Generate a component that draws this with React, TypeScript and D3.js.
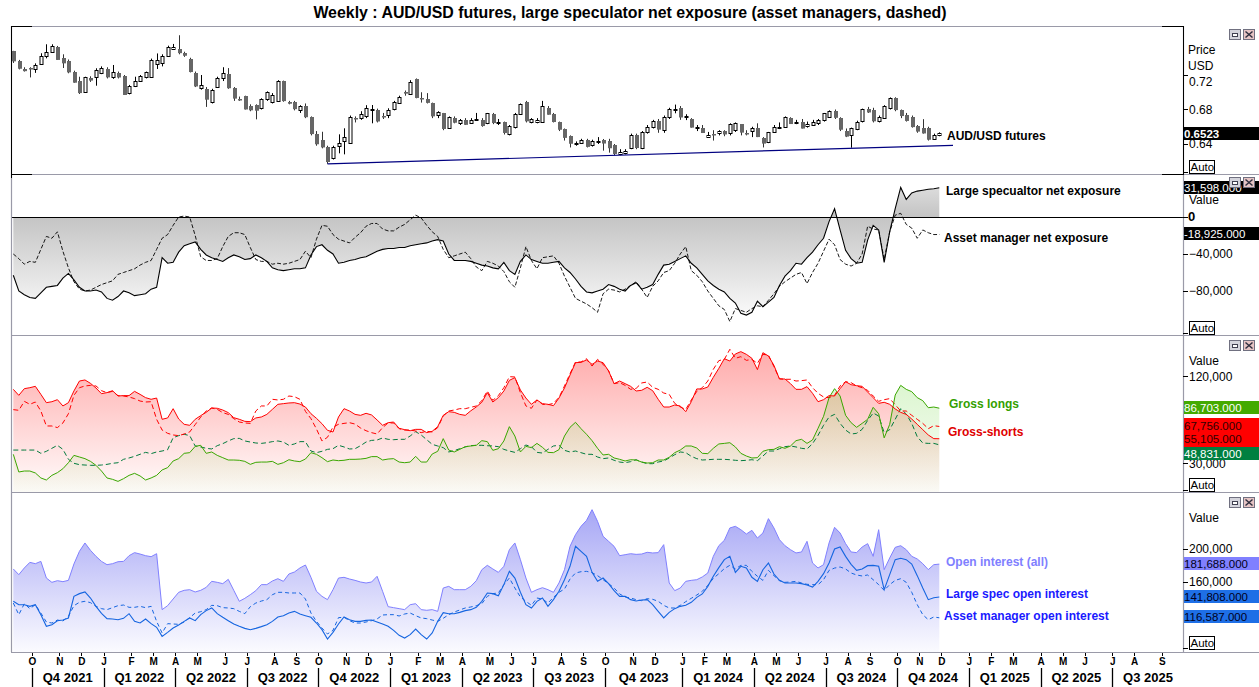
import React, { useEffect, useRef } from 'react';
import * as d3 from 'd3';

// weekly bars (week starting Sunday), Sep 2021 .. Nov 2024
const firstWeek = new Date(2021, 8, 5);
const lastWeek = new Date(2024, 10, 24);

// AUD/USD futures weekly candles
const priceOpen = [
  0.7475, 0.7365, 0.7275, 0.728, 0.7272, 0.733, 0.742, 0.747, 0.753, 0.7397,
  0.736, 0.7239, 0.713, 0.7, 0.716, 0.718, 0.7227, 0.727, 0.718, 0.722,
  0.7188, 0.6988, 0.7072, 0.7135, 0.7173, 0.718, 0.733, 0.734, 0.742, 0.7505,
  0.75, 0.7452, 0.739, 0.722, 0.7055, 0.7034, 0.6885, 0.7064, 0.7165, 0.721,
  0.7045, 0.6922, 0.6956, 0.684, 0.6852, 0.681, 0.6915, 0.6886, 0.69, 0.713,
  0.689, 0.6883, 0.6794, 0.684, 0.671, 0.6515, 0.6446, 0.6368, 0.6233, 0.6376,
  0.6433, 0.6408, 0.6704, 0.67, 0.6716, 0.679, 0.6797, 0.672, 0.6736, 0.6805,
  0.688, 0.7007, 0.698, 0.715, 0.693, 0.692, 0.6872, 0.674, 0.6755, 0.6593,
  0.6705, 0.665, 0.6683, 0.665, 0.669, 0.668, 0.664, 0.6745, 0.665, 0.665,
  0.6523, 0.6593, 0.6748, 0.689, 0.666, 0.666, 0.6658, 0.6823, 0.6748, 0.665,
  0.657, 0.649, 0.64, 0.6415, 0.645, 0.638, 0.643, 0.6446, 0.6434, 0.6388,
  0.6292, 0.63, 0.6353, 0.6504, 0.636, 0.6542, 0.66, 0.667, 0.657, 0.6717,
  0.68, 0.682, 0.6715, 0.669, 0.659, 0.659, 0.648, 0.652, 0.6519, 0.655,
  0.6523, 0.656, 0.6628, 0.653, 0.655, 0.659, 0.6473, 0.6423, 0.654, 0.66,
  0.66, 0.6705, 0.665, 0.6658, 0.66, 0.662, 0.664, 0.667, 0.6714, 0.6777,
  0.6698, 0.655, 0.6504, 0.657, 0.6666, 0.681, 0.6797, 0.667, 0.6698, 0.6814,
  0.693, 0.679, 0.6735, 0.6717, 0.6605, 0.659, 0.659, 0.646, 0.6505,
];
const priceHigh = [
  0.748, 0.7375, 0.729, 0.729, 0.7335, 0.7452, 0.7556, 0.7556, 0.7537, 0.744,
  0.738, 0.725, 0.718, 0.718, 0.7185, 0.7278, 0.73, 0.729, 0.7316, 0.724,
  0.72, 0.7085, 0.718, 0.72, 0.724, 0.739, 0.745, 0.744, 0.754, 0.756,
  0.7661, 0.747, 0.74, 0.724, 0.72, 0.706, 0.704, 0.718, 0.729, 0.728,
  0.706, 0.695, 0.696, 0.686, 0.686, 0.693, 0.701, 0.699, 0.714, 0.7135,
  0.69, 0.69, 0.685, 0.687, 0.672, 0.655, 0.6542, 0.638, 0.638, 0.6512,
  0.6582, 0.673, 0.672, 0.678, 0.685, 0.6852, 0.681, 0.676, 0.6814, 0.69,
  0.696, 0.702, 0.714, 0.716, 0.7, 0.699, 0.688, 0.678, 0.676, 0.672,
  0.672, 0.669, 0.67, 0.67, 0.676, 0.67, 0.676, 0.676, 0.669, 0.666,
  0.662, 0.676, 0.687, 0.69, 0.67, 0.67, 0.69, 0.684, 0.676, 0.666,
  0.658, 0.65, 0.643, 0.646, 0.646, 0.645, 0.648, 0.6458, 0.646, 0.64,
  0.634, 0.634, 0.652, 0.652, 0.655, 0.662, 0.668, 0.669, 0.673, 0.682,
  0.6857, 0.684, 0.6745, 0.67, 0.662, 0.662, 0.654, 0.656, 0.656, 0.656,
  0.664, 0.665, 0.663, 0.656, 0.66, 0.664, 0.648, 0.654, 0.662, 0.665,
  0.672, 0.671, 0.668, 0.669, 0.666, 0.668, 0.669, 0.676, 0.679, 0.68,
  0.671, 0.658, 0.659, 0.667, 0.681, 0.683, 0.682, 0.673, 0.685, 0.694,
  0.6942, 0.68, 0.676, 0.673, 0.662, 0.6688, 0.66, 0.652, 0.6535,
];
const priceLow = [
  0.734, 0.7265, 0.724, 0.7172, 0.7225, 0.7316, 0.7393, 0.7464, 0.7374, 0.7281,
  0.722, 0.711, 0.698, 0.6995, 0.712, 0.7076, 0.721, 0.716, 0.7155, 0.716,
  0.6968, 0.6975, 0.706, 0.712, 0.716, 0.717, 0.727, 0.73, 0.741, 0.749,
  0.744, 0.741, 0.723, 0.706, 0.703, 0.683, 0.687, 0.705, 0.713, 0.704,
  0.69, 0.69, 0.68, 0.678, 0.6686, 0.68, 0.69, 0.687, 0.689, 0.689,
  0.686, 0.679, 0.676, 0.67, 0.65, 0.638, 0.635, 0.617, 0.622, 0.6292,
  0.628, 0.64, 0.665, 0.668, 0.67, 0.664, 0.665, 0.669, 0.67, 0.679,
  0.687, 0.696, 0.697, 0.693, 0.688, 0.687, 0.67, 0.67, 0.656, 0.659,
  0.664, 0.662, 0.662, 0.664, 0.668, 0.66, 0.663, 0.663, 0.662, 0.651,
  0.65, 0.658, 0.674, 0.665, 0.664, 0.664, 0.665, 0.674, 0.665, 0.655,
  0.644, 0.636, 0.638, 0.64, 0.636, 0.637, 0.64, 0.6323, 0.63, 0.627,
  0.627, 0.628, 0.634, 0.634, 0.634, 0.652, 0.658, 0.653, 0.653, 0.669,
  0.6756, 0.668, 0.6677, 0.659, 0.655, 0.653, 0.647, 0.644, 0.65, 0.649,
  0.65, 0.654, 0.65, 0.65, 0.648, 0.648, 0.636, 0.641, 0.653, 0.6573,
  0.659, 0.664, 0.663, 0.658, 0.659, 0.661, 0.662, 0.666, 0.671, 0.669,
  0.655, 0.648, 0.6357, 0.656, 0.665, 0.676, 0.665, 0.665, 0.669, 0.68,
  0.678, 0.67, 0.666, 0.659, 0.653, 0.652, 0.644, 0.645, 0.649,
];
const priceClose = [
  0.7355, 0.7275, 0.725, 0.7268, 0.7316, 0.742, 0.7462, 0.7536, 0.738, 0.7335,
  0.7228, 0.7115, 0.699, 0.7173, 0.713, 0.7258, 0.7285, 0.7173, 0.7239, 0.7168,
  0.6968, 0.7072, 0.713, 0.7188, 0.723, 0.7374, 0.7374, 0.742, 0.753, 0.753,
  0.7452, 0.742, 0.7239, 0.7064, 0.7084, 0.691, 0.7026, 0.717, 0.722, 0.7045,
  0.6922, 0.692, 0.68, 0.679, 0.6786, 0.692, 0.7, 0.697, 0.713, 0.6897,
  0.687, 0.68, 0.684, 0.671, 0.6512, 0.6396, 0.636, 0.6194, 0.636, 0.641,
  0.6477, 0.671, 0.6689, 0.6745, 0.6814, 0.68, 0.6664, 0.671, 0.679, 0.6887,
  0.6948, 0.6988, 0.7115, 0.693, 0.6915, 0.6875, 0.6717, 0.677, 0.657, 0.6717,
  0.665, 0.668, 0.6627, 0.668, 0.6692, 0.661, 0.6755, 0.664, 0.6658, 0.6523,
  0.6612, 0.6748, 0.686, 0.6666, 0.669, 0.668, 0.684, 0.6745, 0.6655, 0.656,
  0.6467, 0.64, 0.6415, 0.6448, 0.637, 0.643, 0.6438, 0.6405, 0.635, 0.6284,
  0.6312, 0.632, 0.6504, 0.6353, 0.6542, 0.66, 0.667, 0.657, 0.6717, 0.6805,
  0.681, 0.671, 0.6728, 0.659, 0.6593, 0.6532, 0.6504, 0.651, 0.6547, 0.651,
  0.6628, 0.664, 0.6528, 0.6525, 0.659, 0.6485, 0.6408, 0.6534, 0.66, 0.66,
  0.6717, 0.6635, 0.666, 0.6582, 0.6628, 0.666, 0.6675, 0.6756, 0.6783, 0.6698,
  0.6562, 0.6485, 0.6582, 0.6655, 0.68, 0.677, 0.6666, 0.6717, 0.684, 0.693,
  0.679, 0.672, 0.6666, 0.66, 0.654, 0.6527, 0.6454, 0.6504, 0.6523,
];
const lastPrice = 0.6523;
const trendWeeks = [57, 152];
const trendPrices = [0.617, 0.635];

// net positions, thousands of contracts
const largeSpecNet = [
  -63, -80, -84, -87, -88, -82, -76, -75, -74, -66,
  -61, -68, -76, -80, -80, -79, -81, -88, -90, -86,
  -80, -82, -85, -84, -83, -78, -76, -44, -50, -49,
  -38, -31, -29, -27, -35, -41, -44, -46, -48, -44,
  -41, -43, -46, -45, -41, -44, -48, -55, -57, -58,
  -57, -56, -56, -55, -41, -32, -30, -36, -40, -50,
  -49, -47, -46, -44, -43, -40, -37, -35, -34, -34,
  -33, -33, -31, -30, -29, -28, -26, -24.5, -26, -40,
  -47, -47, -47, -48, -50, -52, -53, -55, -56, -49,
  -58, -62, -48, -41, -46, -48, -50, -50, -49, -48,
  -55, -60, -67, -75, -81, -82, -80, -78, -73, -75,
  -78, -80, -74, -71, -78, -76, -73, -62, -52, -51,
  -48, -45, -42, -50, -55, -62, -69, -74, -78, -81,
  -88, -93, -104, -106, -103, -91, -97, -92, -87, -74,
  -64, -58, -50, -51, -44, -38, -30, -23, -5, 9,
  -14, -36, -45, -50, -49, -25, -9, -14, -49, -16,
  9, 32, 19, 26, 28, 29, 30, 30.6, 31.6,
];
const assetMgrNet = [
  -40, -45, -51, -48, -49, -35, -21, -23, -16, -37,
  -55, -70, -78, -80, -79, -76, -73, -71, -69, -62,
  -60, -58, -56, -52, -49, -47, -35, -23, -19, -9,
  0, 1, 0, -20, -43, -47, -47, -45, -32, -21,
  -17, -17, -19, -33, -46, -48, -48, -51, -50, -51,
  -50, -48, -46, -37, -44, -24, -9, -10, -19, -24,
  -26, -28, -22, -17, -10, -7, -7, -13, -15, -15,
  -11, -8, -3, 2, -1, -9, -16, -21, -35, -44,
  -42, -40, -38, -45, -54, -58, -48, -50, -53, -59,
  -70, -76, -55, -32, -47, -56, -44, -43, -42, -50,
  -64, -76, -88, -91, -94, -98, -103, -83, -78, -79,
  -81, -78, -74, -70, -78, -87, -75, -69, -60, -58,
  -50, -40, -32, -58, -63, -70, -80, -88, -96, -100,
  -113, -99, -101, -103, -99, -96, -97, -90, -83, -75,
  -70, -66, -62, -60, -72, -60, -50, -37, -24, -30,
  -46, -51, -53, -50, -40, -10, -13, -14, -46, -16,
  2, 4, -8, -12, -23, -14, -17, -19, -18.9,
];

// gross positions, thousands of contracts
const largeSpecLongs = [
  39, 20.7, 21.7, 21.7, 19.7, 14.5, 12.4, 17.2, 20, 24.1,
  30.3, 37.9, 36.2, 34.5, 31.7, 27.6, 21.7, 14.5, 13.1, 11,
  13.8, 17.2, 19.3, 16.6, 12.4, 14.5, 17.2, 22.8, 25.2, 32.1,
  34.5, 40, 40.7, 47.2, 48.3, 40, 41.4, 37.9, 35.5, 33.1,
  33.1, 32.8, 31.7, 28.6, 30.7, 31, 31, 31.7, 28.6, 30.3,
  33.4, 32.1, 31.4, 34.1, 40.7, 39, 35.5, 31.4, 33.1, 32.4,
  32.8, 33.8, 33.8, 34.1, 34.8, 36.6, 36.6, 33.1, 34.1, 34.5,
  31, 30.3, 31, 36.9, 31, 31, 39.3, 42.1, 55.2, 43.4,
  41.4, 44.1, 46.9, 47.6, 48.3, 53.1, 52.1, 43.1, 44.8, 52.8,
  67.6, 57.9, 41.4, 47.2, 45.9, 50.3, 46.2, 41, 40.7, 43.8,
  57.9, 66.9, 72.1, 65.5, 59.7, 53.1, 45.2, 38.3, 39, 35.2,
  33.8, 32.1, 33.4, 33.1, 31, 30, 30.3, 33.1, 33.1, 35.9,
  40.7, 43.4, 47.6, 47.6, 45.5, 40, 39.7, 45.2, 49.7, 50.3,
  51, 46.6, 40, 37.2, 35.2, 35.5, 42.1, 43.8, 44.1, 46.9,
  45.2, 47.6, 53.1, 54.5, 50.3, 53.8, 65.9, 78.3, 97.6, 106.9,
  99.3, 79.3, 71.7, 66.9, 71, 75.2, 87.6, 81, 56, 70,
  100.3, 110.3, 106.2, 103.8, 97.6, 94.5, 87.2, 87.9, 86.7,
];
const largeSpecShorts = [
  106.2, 100, 106.9, 107.9, 109.3, 101, 92.4, 93.4, 95.5, 89,
  92.4, 104.5, 114.8, 115.9, 112.4, 107.6, 101.7, 102.8, 104.8, 99.3,
  99.7, 99.7, 104.1, 101, 97.6, 95.9, 97.2, 75.2, 76.6, 86.2,
  75.5, 70, 69, 75.2, 79, 82.4, 86.9, 86.6, 84.8, 82.1,
  76.9, 75.2, 73.1, 72.8, 76.6, 77.6, 80.3, 85.5, 90.7, 91.4,
  92.1, 92.4, 91, 87.9, 81, 76.2, 70.7, 63.8, 62.1, 77.6,
  86.2, 83.8, 80.3, 79.3, 81.4, 79.7, 74.5, 69, 71.7, 72.4,
  65.9, 64.5, 63.4, 64.8, 64.8, 61.4, 62.8, 67.6, 79.3, 83.1,
  82.4, 80.3, 79.3, 84, 88, 92.8, 102.8, 93.1, 97.6, 104.5,
  115.5, 118.3, 105.5, 97.2, 90.7, 95.2, 91.4, 90.7, 89.3, 97.2,
  107.6, 121, 133.8, 134.1, 136.6, 132.1, 135.5, 133.8, 125.2, 112.1,
  114.8, 112.1, 109.3, 104.5, 105.2, 108.3, 104.8, 95.9, 87.9, 87.9,
  90, 89, 83.1, 93.4, 106.6, 106.6, 108.6, 118.6, 127.9, 137.9,
  135.5, 142.8, 145.2, 142.4, 138.3, 126.6, 144.1, 140.7, 131, 116.9,
  116.9, 112.1, 106.2, 106.2, 109, 102.1, 93.4, 95.5, 99.7, 99.3,
  106.9, 114.1, 111, 110, 109.3, 103.4, 97.6, 91.7, 92.8, 90.7,
  85.9, 82.4, 80.3, 75.5, 70, 64.5, 59, 55.2, 55.1,
];
const assetMgrLongs = [
  43.4, 43.4, 43.4, 43.4, 43.4, 40, 42.1, 45.2, 48.3, 44.1,
  33.8, 29.7, 28.3, 27.9, 27.6, 27.6, 27.9, 28.6, 29.7, 30.3,
  33.8, 35.2, 36.9, 39, 41, 39.7, 41.4, 42.4, 43.8, 56.2,
  58.3, 59.7, 58.3, 47.6, 46.6, 45.2, 44.5, 47.9, 50, 52.8,
  55.2, 55.5, 52.8, 51.7, 50.7, 50.3, 51, 52.1, 52.8, 51.7,
  48.3, 49.7, 52.1, 52.1, 42.4, 40.7, 42.1, 44.1, 44.8, 48.3,
  46.6, 44.5, 44.8, 47.9, 51.7, 53.4, 53.8, 55.9, 54.5, 54.1,
  54.5, 54.5, 57.9, 62.4, 59, 54.1, 49.3, 47.6, 45.9, 41.4,
  42.8, 44.8, 46.6, 48, 48.3, 48.3, 47.9, 47.6, 46.9, 44.1,
  42.4, 41, 44.8, 48.6, 46.9, 41, 40.3, 44.1, 47.6, 48.3,
  43.1, 41.4, 42.4, 40.7, 39, 39, 36.2, 34.5, 35.2, 32.8,
  31, 30.3, 31.4, 33.4, 31, 29.3, 29.3, 31, 32.1, 35.2,
  38.6, 41.4, 40.7, 36.9, 34.5, 33.1, 33.4, 33.8, 33.8, 33.8,
  33.4, 32.8, 32.4, 32.8, 33.4, 32.4, 37.2, 42.4, 42.4, 44.8,
  46.9, 47.6, 46.6, 45.2, 44.5, 50, 58.6, 69, 77.6, 80.3,
  71, 64.1, 60, 60.7, 64.8, 74.1, 81.7, 78.6, 61.4, 64.5,
  75.2, 86.2, 80.7, 71, 57.2, 50.7, 50.3, 50.3, 48.8,
];
const assetMgrShorts = [
  85.2, 84.5, 93.8, 90.7, 93.1, 83.8, 68.3, 68.3, 66.6, 71.4,
  81, 100, 107.9, 109.7, 110.3, 109.7, 104.8, 102.8, 104.1, 99.7,
  99.3, 98.3, 96.6, 94.1, 93.1, 93.4, 75.2, 64.1, 60.7, 59,
  58.3, 60, 62.1, 69.7, 77.6, 83.8, 86.9, 85.5, 82.1, 80.3,
  75.9, 72.4, 71.4, 71, 83.8, 89, 89, 95.9, 95.2, 95.9,
  99.3, 98.6, 95.9, 83.4, 75.9, 65.2, 52.8, 56.6, 67.2, 70,
  71, 71.7, 70.3, 66.2, 63.4, 61.4, 60, 66.6, 71.4, 71.4,
  65.5, 64.1, 64.1, 63.1, 61.4, 62.8, 62.1, 66.6, 78.6, 83.8,
  84.8, 86.2, 86.2, 87.6, 89, 94.5, 104.5, 94.8, 99.7, 107.9,
  119.3, 119, 102.8, 89, 86.6, 95.2, 90.7, 90.3, 91.7, 97.9,
  109.7, 122.4, 134.5, 134.5, 137.9, 130.3, 137.2, 132.1, 125.5, 112.1,
  113.1, 110.3, 106.2, 107.2, 112.8, 113.8, 108.3, 106.2, 102.4, 101,
  91.7, 87.9, 85.5, 95.2, 104.1, 107.9, 114.8, 126.9, 135.9, 137.2,
  147.6, 138.3, 140, 136.2, 137.2, 133.1, 142.4, 141.7, 129.7, 117.2,
  116.6, 116.6, 114.8, 115.2, 115.9, 107.9, 102.1, 98.3, 97.6, 100,
  109.7, 114.1, 113.1, 109.7, 107.9, 105.2, 99.3, 93.8, 95.5, 96.6,
  90.3, 83.8, 83.8, 79.3, 75.2, 71, 65.5, 68.6, 67.8,
];

// open interest, thousands of contracts
const openInterestAll = [
  175.8, 168.9, 177, 183.8, 182.2, 185, 164.8, 159.6, 161.6, 160.4,
  162, 181.8, 197.2, 207.3, 198.4, 191.1, 185, 181, 182.2, 184.6,
  185, 191.9, 195.6, 193.9, 191.9, 190.7, 194.3, 126.5, 131.3, 139.4,
  147.5, 149.9, 150.7, 147.9, 149.9, 153.5, 160.8, 159.6, 158, 163.2,
  149.9, 136.6, 140.2, 144.6, 149.5, 156.8, 156.8, 161.2, 164, 160.8,
  169.7, 172.1, 177, 180.6, 165.7, 148.7, 142.6, 138.6, 150.7, 164.8,
  165.7, 163.6, 162, 160, 158.8, 160, 166.9, 148.7, 130.1, 128.9,
  127.7, 126.5, 132.5, 133.7, 126.5, 125.7, 126.5, 124.4, 152.7, 154.7,
  150.7, 150.7, 150.7, 154.7, 161.6, 174.9, 180.2, 175.8, 171.7, 179,
  199.2, 207.3, 187.1, 164.8, 147.5, 150.7, 153.1, 150.7, 147.5, 158.8,
  174.9, 203.2, 217.4, 227.5, 234.7, 247.7, 233.5, 215.4, 209.3, 203.2,
  191.9, 193.1, 194.3, 193.5, 193.9, 196, 195.2, 195.6, 205.3, 158.8,
  149.5, 152.7, 160.8, 162, 162.8, 166.1, 170.9, 191.1, 204, 210.5,
  225.5, 227.5, 223.4, 218.2, 222.6, 213.3, 219.4, 236.8, 225.5, 211.3,
  204, 199.2, 195.2, 196.4, 209.3, 183, 177, 181, 207.3, 226.3,
  219.4, 206.5, 196.4, 195.6, 202.4, 206.5, 191.1, 223.4, 175, 189.1,
  202, 204, 199.2, 191.1, 187.9, 182.2, 175, 181, 181.7,
];
const largeSpecOI = [
  136.6, 132.5, 132.5, 130.5, 132.5, 120.4, 106.3, 108.3, 113.1, 113.9,
  116.4, 142.6, 145.9, 147.9, 140.6, 130.5, 122, 115.6, 115.2, 114.3,
  116, 121.6, 112.3, 110.3, 115.2, 109.5, 105.1, 94.1, 99, 104.2,
  107.9, 112.3, 116.4, 113.1, 120.4, 125.3, 128.5, 121.6, 117.2, 113.1,
  109.1, 106.3, 103.8, 102.2, 103.8, 105.9, 108.3, 112.3, 117.6, 119.2,
  122.4, 124.4, 121.2, 119.2, 117.2, 110.3, 102.2, 90.9, 99, 109.1,
  117.6, 114.3, 112.3, 112.3, 113.5, 113.9, 111.5, 109.1, 106.3, 101.4,
  95.4, 92.1, 96.2, 103, 96.2, 90.9, 98.2, 112.3, 122.8, 121.6,
  121.6, 123.2, 125.3, 126.5, 129.3, 136.6, 146.7, 145.9, 143.4, 156.8,
  172.9, 164.8, 147.5, 132.5, 128.5, 136.6, 140.6, 130.5, 138.6, 148.7,
  162.8, 179, 203.2, 197.2, 191.1, 171.7, 160.8, 164.8, 158, 149.5,
  142.6, 142.6, 138.6, 136.9, 138.2, 138.6, 132.5, 124.4, 116.4, 123.2,
  127.7, 130.5, 131.7, 135.4, 141.4, 145.5, 154.7, 166.9, 177.4, 187.1,
  191.1, 171.7, 179, 177, 165.7, 160.8, 174.9, 183, 169.7, 162,
  158.8, 158.8, 158.8, 158, 156.4, 153.9, 160.8, 170.1, 183, 200,
  202.4, 191.1, 181.4, 174.1, 175.8, 179.8, 180.2, 179, 150.7, 168.9,
  187.1, 188.7, 187.1, 181.8, 167.7, 152.7, 138.6, 141, 141.8,
];
const assetMgrOI = [
  134.5, 120.4, 133.7, 127.7, 132.5, 122.4, 111.5, 110.3, 113.9, 112.7,
  118.4, 131.3, 135.4, 136.6, 135, 130.5, 127.7, 126.5, 128.9, 131.3,
  132.1, 129.3, 129.3, 130.5, 128.9, 130.5, 112.3, 98.2, 109.5, 109.1,
  108.7, 111.5, 116.8, 122.4, 124, 126.5, 131.7, 131.3, 128.9, 128.5,
  127.7, 124.4, 121.6, 130.1, 134.5, 136.9, 138.6, 144.6, 147.5, 147.5,
  146.7, 146.7, 146.7, 139.4, 122.4, 112.3, 104.2, 97, 101.4, 116.8,
  117.2, 113.1, 110.3, 110.3, 111.5, 113.1, 115.2, 120, 120.4, 120.4,
  118.8, 121.2, 122.4, 119.2, 116.4, 115.6, 113.9, 112.3, 116, 120.4,
  123.6, 126.1, 128.5, 129.7, 131.3, 133.7, 142.6, 145.9, 146.7, 156.8,
  164.8, 152.7, 141.8, 136.6, 131.7, 140.6, 139.4, 134.5, 141.4, 147.5,
  151.5, 163.6, 170.9, 172.5, 172.9, 171.3, 167.7, 162.8, 158, 152.7,
  145.5, 141.8, 140.6, 138.6, 137.4, 139.8, 139, 136.6, 131.7, 128.5,
  128.5, 131.7, 136.2, 140.2, 144.2, 148.7, 156, 164.4, 170.1, 176.2,
  180.2, 175.8, 180.2, 180.2, 172.9, 166.9, 162, 174.1, 167.7, 161.6,
  159.6, 160, 160.8, 158.8, 157.2, 156.8, 156.8, 162.8, 174.1, 176.9,
  178.2, 175.8, 170.9, 168.5, 167.3, 168.5, 162.8, 156.8, 149.9, 156.8,
  162, 164, 159.6, 147.5, 132.5, 120.4, 114.3, 117.6, 116.6,
];

// axis ticks and latest-value tags
const priceTicks = [0.64, 0.68, 0.72];
const netTicks = [-80, -40];
const grossTicks = [30, 120];
const oiTicks = [160, 200];
const netTags = ['31,598.000', '-18,925.000'];
const grossTags = ['86,703.000', '67,756.000', '55,105.000', '48,831.000'];
const oiTags = ['181,688.000', '141,808.000', '116,587.000'];

const W = 1259;
const H = 687;
const L = 11;
const R = 1183;
const sans = "'Liberation Sans', Arial, sans-serif";

const App = () => {
  const ref = useRef<SVGSVGElement>(null);

  useEffect(() => {
    const svg = d3.select(ref.current);
    svg.selectAll('*').remove();

    const weeks = d3.timeWeek.range(firstWeek, d3.timeDay.offset(lastWeek, 1));
    const x = d3.scaleTime().domain([firstWeek, lastWeek]).range([13.3, 939.3]);
    const xw = (i: number) => x(weeks[i]);

    const panels = [
      { id: 'p1', top: 26, bottom: 174 },
      { id: 'p2', top: 174, bottom: 335 },
      { id: 'p3', top: 335, bottom: 492 },
      { id: 'p4', top: 492, bottom: 652 },
    ];

    const defs = svg.append('defs');
    panels.forEach(p => {
      defs.append('clipPath').attr('id', 'clip-' + p.id)
        .append('rect').attr('x', L).attr('y', p.top + 0.5)
        .attr('width', R - L).attr('height', p.bottom - p.top - 0.5);
    });
    const grad = (id: string, y1: number, y2: number, stops: [number, string, number][]) => {
      const g = defs.append('linearGradient').attr('id', id)
        .attr('gradientUnits', 'userSpaceOnUse')
        .attr('x1', 0).attr('x2', 0).attr('y1', y1).attr('y2', y2);
      stops.forEach(([o, c, a]) => g.append('stop').attr('offset', o).attr('stop-color', c).attr('stop-opacity', a));
    };
    grad('netGrad', 180, 325, [[0, '#e2e2e2', 1], [0.25, '#c4c4c4', 1], [1, '#ffffff', 1]]);
    grad('redGrad', 345, 492, [[0, '#ff5050', 0.5], [1, '#ff5050', 0.02]]);
    grad('greenGrad', 380, 492, [[0, '#6ed73c', 0.25], [1, '#6ed73c', 0.03]]);
    grad('oiGrad', 495, 652, [[0, '#7878f0', 0.72], [1, '#7878f0', 0.03]]);

    svg.append('rect').attr('width', W).attr('height', H).attr('fill', '#fff');

    // title
    svg.append('text').attr('x', 630).attr('y', 18).attr('text-anchor', 'middle')
      .attr('font-family', sans).attr('font-weight', 'bold').attr('font-size', 15.9)
      .text('Weekly : AUD/USD futures, large speculator net exposure (asset managers, dashed)');

    // ---------- panel 1: price candles ----------
    const price = d3.scaleLinear().domain([0.64, 0.72]).range([144, 75]);
    const g1 = svg.append('g').attr('clip-path', 'url(#clip-p1)');
    weeks.forEach((d, i) => {
      const cx = Math.round(xw(i));
      const up = priceClose[i] >= priceOpen[i];
      g1.append('line').attr('x1', cx + 0.5).attr('x2', cx + 0.5)
        .attr('y1', price(priceHigh[i])).attr('y2', price(priceLow[i]))
        .attr('stroke', up ? '#000' : '#333').attr('stroke-width', 1);
      const top = price(Math.max(priceOpen[i], priceClose[i]));
      const bot = price(Math.min(priceOpen[i], priceClose[i]));
      if (up) {
        g1.append('rect').attr('x', cx - 1).attr('y', Math.round(top) + 0.5)
          .attr('width', 3).attr('height', Math.max(1, Math.round(bot - top)))
          .attr('fill', '#fff').attr('stroke', '#000').attr('stroke-width', 1);
      } else {
        g1.append('rect').attr('x', cx - 1).attr('y', Math.round(top))
          .attr('width', 4).attr('height', Math.max(1.5, bot - top))
          .attr('fill', '#666');
      }
    });
    // support trendline
    const slope = (trendPrices[1] - trendPrices[0]) / (xw(trendWeeks[1]) - xw(trendWeeks[0]));
    const tx0 = xw(trendWeeks[0]);
    const tx1 = 953;
    g1.append('line').attr('x1', tx0).attr('y1', price(trendPrices[0]))
      .attr('x2', tx1).attr('y2', price(trendPrices[0] + slope * (tx1 - tx0)))
      .attr('stroke', '#000080').attr('stroke-width', 1.2);
    svg.append('text').attr('x', 947).attr('y', 140).attr('font-family', sans)
      .attr('font-weight', 'bold').attr('font-size', 12).text('AUD/USD futures');

    // ---------- panel 2: net exposure ----------
    const net = d3.scaleLinear().domain([-80, 0]).range([291, 217]);
    const g2 = svg.append('g').attr('clip-path', 'url(#clip-p2)');
    g2.append('path').datum(largeSpecNet)
      .attr('d', d3.area<number>().x((d, i) => xw(i)).y0(net(0)).y1(d => net(d)))
      .attr('fill', 'url(#netGrad)');
    g2.append('line').attr('x1', L).attr('x2', R + 4).attr('y1', 217.5).attr('y2', 217.5)
      .attr('stroke', '#000').attr('stroke-width', 1.2);
    const netLine = d3.line<number>().x((d, i) => xw(i)).y(d => net(d));
    g2.append('path').datum(assetMgrNet).attr('d', netLine).attr('fill', 'none')
      .attr('stroke', '#000').attr('stroke-width', 0.9).attr('stroke-dasharray', '4,2');
    g2.append('path').datum(largeSpecNet).attr('d', netLine).attr('fill', 'none')
      .attr('stroke', '#000').attr('stroke-width', 1.1);
    svg.append('text').attr('x', 946).attr('y', 195).attr('font-family', sans)
      .attr('font-weight', 'bold').attr('font-size', 12).text('Large specualtor net exposure');
    svg.append('text').attr('x', 944).attr('y', 242).attr('font-family', sans)
      .attr('font-weight', 'bold').attr('font-size', 12).text('Asset manager net exposure');

    // ---------- panel 3: gross longs / shorts ----------
    const gross = d3.scaleLinear().domain([30, 120]).range([463, 376]);
    const g3 = svg.append('g').attr('clip-path', 'url(#clip-p3)');
    const grossArea = d3.area<number>().x((d, i) => xw(i)).y0(gross(0)).y1(d => gross(d));
    const grossLine = d3.line<number>().x((d, i) => xw(i)).y(d => gross(d));
    g3.append('path').datum(largeSpecShorts).attr('d', grossArea).attr('fill', 'url(#redGrad)');
    g3.append('path').datum(largeSpecLongs).attr('d', grossArea).attr('fill', 'url(#greenGrad)');
    g3.append('path').datum(assetMgrLongs).attr('d', grossLine).attr('fill', 'none')
      .attr('stroke', '#007a3d').attr('stroke-width', 1).attr('stroke-dasharray', '5,3');
    g3.append('path').datum(assetMgrShorts).attr('d', grossLine).attr('fill', 'none')
      .attr('stroke', '#ff0000').attr('stroke-width', 1).attr('stroke-dasharray', '5,3');
    g3.append('path').datum(largeSpecLongs).attr('d', grossLine).attr('fill', 'none')
      .attr('stroke', '#3aa600').attr('stroke-width', 1);
    g3.append('path').datum(largeSpecShorts).attr('d', grossLine).attr('fill', 'none')
      .attr('stroke', '#ff0000').attr('stroke-width', 1);
    svg.append('text').attr('x', 949).attr('y', 408).attr('font-family', sans)
      .attr('font-weight', 'bold').attr('font-size', 12).attr('fill', '#33a000').text('Gross longs');
    svg.append('text').attr('x', 948).attr('y', 436).attr('font-family', sans)
      .attr('font-weight', 'bold').attr('font-size', 12).attr('fill', '#e00000').text('Gross-shorts');

    // ---------- panel 4: open interest ----------
    const oi = d3.scaleLinear().domain([160, 200]).range([582, 549]);
    const g4 = svg.append('g').attr('clip-path', 'url(#clip-p4)');
    g4.append('path').datum(openInterestAll)
      .attr('d', d3.area<number>().x((d, i) => xw(i)).y0(652).y1(d => oi(d)))
      .attr('fill', 'url(#oiGrad)');
    const oiLine = d3.line<number>().x((d, i) => xw(i)).y(d => oi(d));
    g4.append('path').datum(openInterestAll).attr('d', oiLine).attr('fill', 'none')
      .attr('stroke', '#8080ff').attr('stroke-width', 1);
    g4.append('path').datum(assetMgrOI).attr('d', oiLine).attr('fill', 'none')
      .attr('stroke', '#1565e0').attr('stroke-width', 1).attr('stroke-dasharray', '4,3');
    g4.append('path').datum(largeSpecOI).attr('d', oiLine).attr('fill', 'none')
      .attr('stroke', '#1565e0').attr('stroke-width', 1.1);
    svg.append('text').attr('x', 946).attr('y', 566).attr('font-family', sans)
      .attr('font-weight', 'bold').attr('font-size', 12).attr('fill', '#8080ff').text('Open interest (all)');
    svg.append('text').attr('x', 946).attr('y', 598).attr('font-family', sans)
      .attr('font-weight', 'bold').attr('font-size', 12).attr('fill', '#1a1aff').text('Large spec open interest');
    svg.append('text').attr('x', 944).attr('y', 620).attr('font-family', sans)
      .attr('font-weight', 'bold').attr('font-size', 12).attr('fill', '#1a1aff').text('Asset manager open interest');

    // ---------- frames ----------
    const frame = svg.append('g').attr('stroke', '#9a9aa8').attr('stroke-width', 1.2);
    [174, 335, 492, 652].forEach(y => frame.append('line').attr('x1', L).attr('x2', W).attr('y1', y + 0.5).attr('y2', y + 0.5));
    frame.append('line').attr('x1', L).attr('x2', R).attr('y1', 26.5).attr('y2', 26.5);
    frame.append('line').attr('x1', L + 0.5).attr('x2', L + 0.5).attr('y1', 26).attr('y2', 652);
    frame.append('line').attr('x1', R + 0.5).attr('x2', R + 0.5).attr('y1', 26).attr('y2', 652);
    const blk = svg.append('g').attr('stroke', '#000').attr('stroke-width', 1);
    blk.append('line').attr('x1', L + 0.5).attr('x2', L + 0.5).attr('y1', 26).attr('y2', 178);
    blk.append('line').attr('x1', R + 0.5).attr('x2', R + 0.5).attr('y1', 26).attr('y2', 175);
    [26.5, 174.5].forEach(y => {
      blk.append('line').attr('x1', L).attr('x2', L + 21).attr('y1', y).attr('y2', y);
      blk.append('line').attr('x1', R - 21).attr('x2', R).attr('y1', y).attr('y2', y);
    });

    // ---------- right axes ----------
    const ax = svg.append('g').attr('font-family', sans).attr('font-size', 12);
    const tick = (y: number) => ax.append('line').attr('x1', R).attr('x2', R + 5)
      .attr('y1', Math.round(y) + 0.5).attr('y2', Math.round(y) + 0.5).attr('stroke', '#000');
    const label = (y: number, t: string, bold = false) => ax.append('text').attr('x', 1189).attr('y', y + 4)
      .attr('font-weight', bold ? 'bold' : 'normal').text(t);
    const icons = (y: number) => {
      const ig = svg.append('g');
      ig.append('rect').attr('x', 1229.5).attr('y', y + 0.5).attr('width', 11).attr('height', 10)
        .attr('fill', '#d4d4dc').attr('stroke', '#707080');
      ig.append('rect').attr('x', 1232.5).attr('y', y + 4.5).attr('width', 5).attr('height', 3)
        .attr('fill', '#fff').attr('stroke', '#404050');
      ig.append('rect').attr('x', 1243.5).attr('y', y + 0.5).attr('width', 11).attr('height', 10)
        .attr('fill', '#e6c4c4').attr('stroke', '#707080');
      ig.append('path').attr('d', `M${1245.5},${y + 2.5}L${1252.5},${y + 8.5}M${1252.5},${y + 2.5}L${1245.5},${y + 8.5}`)
        .attr('stroke', '#303040').attr('stroke-width', 1.5);
    };
    const autoBox = (y: number) => {
      ax.append('line').attr('x1', R).attr('x2', R + 5).attr('y1', y + 12.5).attr('y2', y + 12.5).attr('stroke', '#000');
      ax.append('rect').attr('x', 1189.5).attr('y', y + 0.5).attr('width', 25).attr('height', 13)
        .attr('fill', '#fff').attr('stroke', '#000');
      ax.append('text').attr('x', 1190.5).attr('y', y + 11).attr('font-size', 11.5).text('Auto');
    };
    const tag = (y: number, t: string, bg: string, fg: string, bold = false) => {
      ax.append('rect').attr('x', R + 1).attr('y', y).attr('width', W - R - 1).attr('height', 13).attr('fill', bg);
      ax.append('text').attr('x', R + 1).attr('y', y + 10.5).attr('font-size', 11.5)
        .attr('font-weight', bold ? 'bold' : 'normal').attr('fill', fg).text(t);
    };

    // panel 1 axis
    icons(29);
    ax.append('text').attr('x', 1188).attr('y', 54).text('Price');
    ax.append('text').attr('x', 1188).attr('y', 70).text('USD');
    priceTicks.forEach(v => {
      tick(price(v));
      label(price(v) + (v === 0.72 ? 7 : 0), d3.format('.2f')(v));
    });
    tag(Math.round(price(lastPrice)) - 6, d3.format('.4f')(lastPrice), '#000', '#fff', true);
    autoBox(160);

    // panel 2 axis
    icons(177);
    ax.append('text').attr('x', 1189).attr('y', 204).text('Value');
    tick(net(0));
    ax.append('text').attr('x', 1188).attr('y', 221).attr('font-weight', 'bold').attr('font-size', 13).text('0');
    netTicks.forEach(v => { tick(net(v)); label(net(v), d3.format(',')(v * 1000)); });
    tag(181, netTags[0], '#000', '#fff');
    tag(227, netTags[1], '#000', '#fff');
    autoBox(321);

    // panel 3 axis
    icons(340);
    ax.append('text').attr('x', 1189).attr('y', 365).text('Value');
    grossTicks.forEach(v => { tick(gross(v)); label(gross(v) + 1, d3.format(',')(v * 1000)); });
    tag(401, grossTags[0], '#44aa00', '#fff');
    ax.append('rect').attr('x', R + 1).attr('y', 418).attr('width', W - R - 1).attr('height', 29).attr('fill', '#ff0000');
    ax.append('text').attr('x', R + 1).attr('y', 429.5).attr('font-size', 11.5).attr('fill', '#300000').text(grossTags[1]);
    ax.append('text').attr('x', R + 1).attr('y', 442.5).attr('font-size', 11.5).attr('fill', '#300000').text(grossTags[2]);
    tag(447, grossTags[3], '#008040', '#fff');
    autoBox(478);

    // panel 4 axis
    icons(497);
    ax.append('text').attr('x', 1189).attr('y', 522).text('Value');
    oiTicks.forEach(v => { tick(oi(v)); label(oi(v), d3.format(',')(v * 1000)); });
    tag(557, oiTags[0], '#8080ff', '#000020');
    tag(590, oiTags[1], '#1e6fe6', '#000020');
    tag(610, oiTags[2], '#1e6fe6', '#000020');
    autoBox(636);

    // ---------- time axis ----------
    const xa = svg.append('g').attr('font-family', sans);
    const months = d3.timeMonth.range(new Date(2021, 9, 1), new Date(2025, 9, 1));
    const barX = (m: Date) => x(d3.timeWeek.ceil(m)) - 3.5;
    months.forEach(m => {
      const px = barX(m);
      xa.append('line').attr('x1', Math.round(px) + 0.5).attr('x2', Math.round(px) + 0.5)
        .attr('y1', 653).attr('y2', 656).attr('stroke', '#000');
      xa.append('text').attr('x', px + 0.5).attr('y', 665).attr('text-anchor', 'middle')
        .attr('font-size', 10).attr('font-weight', 'bold').text(d3.timeFormat('%b')(m)[0]);
      if (m.getMonth() % 3 === 0) {
        const next = barX(d3.timeMonth.offset(m, 3));
        xa.append('line').attr('x1', Math.round(px) + 0.5).attr('x2', Math.round(px) + 0.5)
          .attr('y1', 668).attr('y2', 687).attr('stroke', '#000').attr('stroke-width', 1.3);
        const q = Math.floor(m.getMonth() / 3) + 1;
        xa.append('text').attr('x', (px + next) / 2).attr('y', 682).attr('text-anchor', 'middle')
          .attr('font-size', 13).attr('font-weight', 'bold').text(`Q${q} ${m.getFullYear()}`);
      }
    });
  }, []);

  return (
    <svg ref={ref} width={W} height={H} style={{ position: 'absolute', left: 0, top: 0, background: '#fff' }} />
  );
};

export default App;
